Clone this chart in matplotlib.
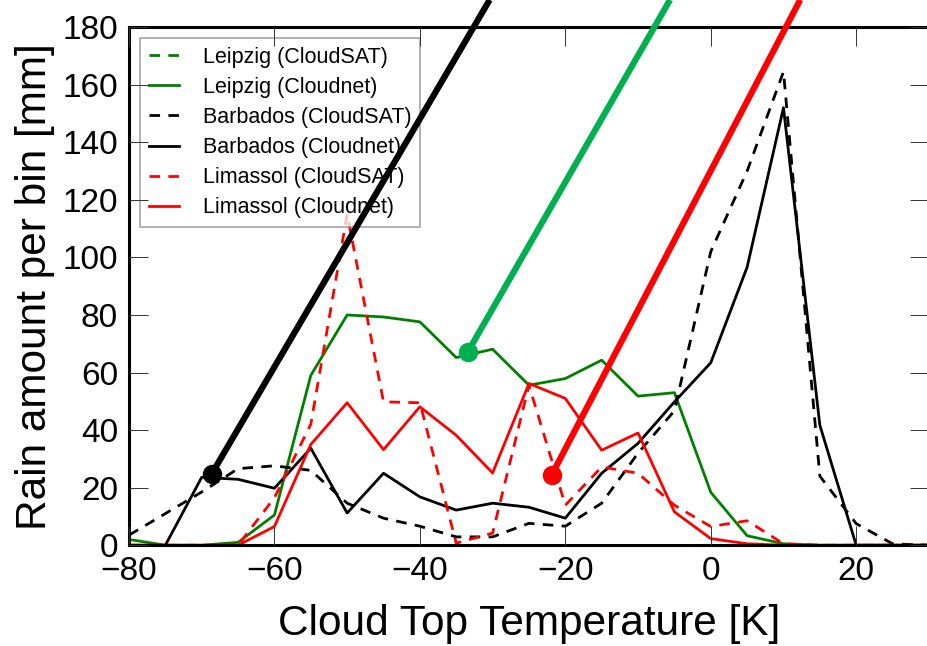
import matplotlib
matplotlib.use('Agg')
import matplotlib.pyplot as plt

plt.rcParams['font.family'] = ['Liberation Sans', 'DejaVu Sans']

# cloud top temperature bins [K]
temps = [-80, -75, -70, -65, -60, -55, -50, -45, -40, -35, -30, -25,
         -20, -15, -10, -5, 0, 5, 10, 15, 20, 25, 30]

leipzig_sat = []  # no visible curve in the figure, legend entry only
leipzig_net = [2, 0, 0, 1, 10.5, 59, 80, 79.3, 77.6, 65.2, 68.1, 55.6,
               57.9, 64.3, 51.8, 53, 18.4, 3.3, 0.5, 0, 0, 0, 0]
barbados_sat = [3.5, 11, 18.5, 26.6, 27.6, 26, 14.6, 9.4, 6.6, 2.9, 2.9, 7.6,
                6.6, 14.6, 32, 46.7, 102, 130, 164.5, 24, 7.5, 0.5, 0]
barbados_net = [0, 0, 23.6, 22.9, 19.8, 33.7, 11.2, 25, 16.8, 12.2, 14.6, 13.2,
                9.4, 25, 35.4, 49.8, 63.4, 96.6, 152, 41.7, 0, 0, 0]
limassol_sat = [0, 0, 0, 0, 16.5, 42, 115, 49.8, 49.5, 0.7, 4.2, 55.6,
                13.9, 27.2, 25, 13.9, 6.5, 8.5, 0.5, 0, 0, 0, 0]
limassol_net = [0, 0, 0, 0, 6.5, 35, 49.5, 33.2, 48.1, 38.2, 25.1, 56.2,
                51, 33, 39, 11.6, 2.3, 0.5, 0, 0, 0, 0, 0]

# pointer lines drawn over the plot (start point, end point above the axes)
pointer_black = ([-68.6, -30.4], [24.9, 189.5])
pointer_green = ([-33.4, -5.6], [67.2, 189.5])
pointer_red = ([-21.9, 12.3], [24.3, 189.5])

fig = plt.figure(figsize=(9.28, 6.46), dpi=100)
ax = fig.add_subplot(111)
fig.subplots_adjust(left=0.139, right=1.001, top=0.958, bottom=0.156)

dash = (3.8, 3)
ax.plot(temps[:len(leipzig_sat)], leipzig_sat, color='g', lw=2, dashes=dash, label='Leipzig (CloudSAT)')
ax.plot(temps, leipzig_net, color='g', lw=2, label='Leipzig (Cloudnet)')
ax.plot(temps, barbados_sat, color='k', lw=2, dashes=dash, label='Barbados (CloudSAT)')
ax.plot(temps, barbados_net, color='k', lw=2, label='Barbados (Cloudnet)')
ax.plot(temps, limassol_sat, color='r', lw=2, dashes=dash, label='Limassol (CloudSAT)')
ax.plot(temps, limassol_net, color='r', lw=2, label='Limassol (Cloudnet)')

for (px, py), c in [(pointer_black, 'k'), (pointer_green, '#00b050'), (pointer_red, '#ff0000')]:
    ax.plot(px, py, color=c, lw=4.5, clip_on=False, zorder=7, solid_capstyle='butt')
    ax.plot(px[0], py[0], 'o', color=c, ms=13, clip_on=False, zorder=7)

ax.set_xlim(-80, 30)
ax.set_ylim(0, 180)
ax.set_xticks(range(-80, 31, 20))
ax.set_yticks(range(0, 181, 20))
ax.tick_params(direction='in', length=14, width=0.7, color='#333333',
               top=True, right=True, labelsize=24, pad=8)
for s in ax.spines.values():
    s.set_linewidth(2.2)

ax.set_xlabel('Cloud Top Temperature [K]', fontsize=30.5, labelpad=12)
ax.set_ylabel('Rain amount per bin [mm]', fontsize=30.5, labelpad=5)

leg = ax.legend(loc='upper left', fontsize=15.5, handlelength=1.4, handletextpad=1.1,
                labelspacing=0.42, borderpad=0.42, borderaxespad=0.5,
                fancybox=False, framealpha=0.75)
leg.get_frame().set_edgecolor('#888888')
leg.get_frame().set_linewidth(1.2)
ax.xaxis.set_zorder(6)
ax.yaxis.set_zorder(6)

plt.savefig('out.png', dpi=100)
